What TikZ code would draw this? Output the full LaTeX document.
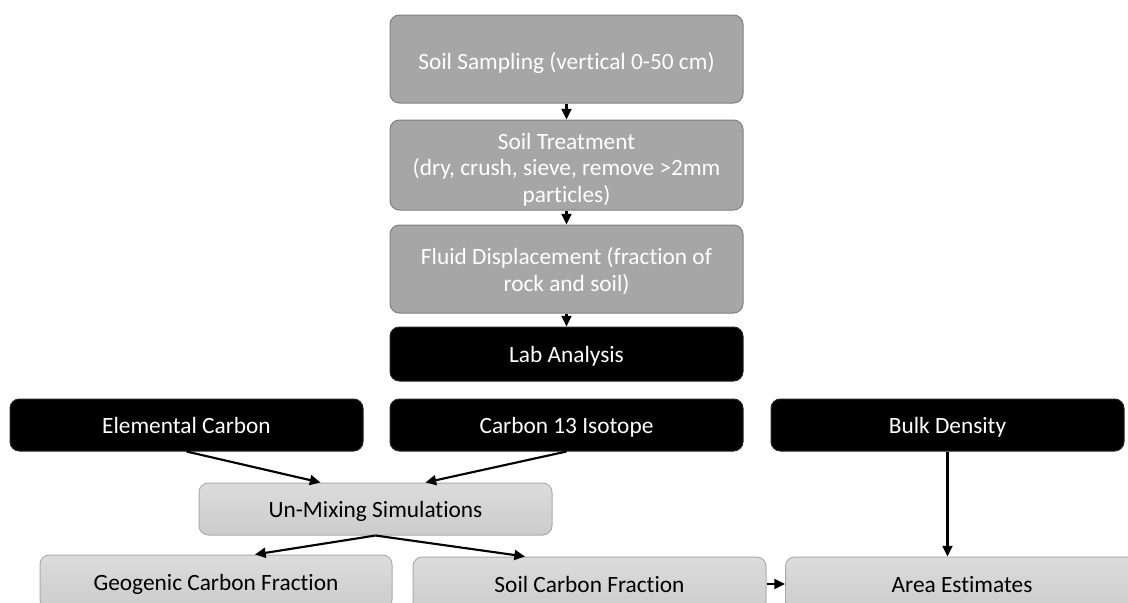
\documentclass[tikz,border=0pt]{standalone}
\usepackage{fontspec}
\setmainfont{Carlito}[Ligatures={NoCommon}]
\usetikzlibrary{arrows.meta,calc}

\definecolor{midgray}{HTML}{A6A6A6}
\definecolor{midedge}{HTML}{7F7F7F}
\definecolor{lighttop}{HTML}{DCDCDC}
\definecolor{lightbot}{HTML}{CCCCCC}
\definecolor{lightedge}{HTML}{ABABAB}

\begin{document}
\begin{tikzpicture}[x=0.75pt,y=-0.75pt,
    font=\fontsize{17.5}{20}\selectfont]

        \useasboundingbox (0,0) rectangle (1128,603);
        \clip (0,0) rectangle (1128,603);

        \begin{scope}[every node/.style={rectangle,rounded corners=7pt,draw=midedge,fill=midgray,
            text=white,line width=0.75pt,align=center,inner sep=0pt,minimum width=264.75pt}]
          \node[minimum height=66pt,text height=19pt,text depth=3.5pt] (samp) at (566.5,59) {Soil Sampling (vertical 0-50 cm)};
          \node[minimum height=67.5pt] (treat) at (566.5,165) {\rule{0pt}{19pt}Soil Treatment\\(dry, crush, sieve, remove >2mm\\particles)};
          \node[minimum height=66pt]   (fluid) at (566.5,269) {\rule{0pt}{16pt}Fluid Displacement (fraction of\\rock and soil)};
        \end{scope}

        \begin{scope}[every node/.style={rectangle,rounded corners=7pt,draw=black!85,fill=black,
            text=white,line width=0.75pt,inner sep=0pt,text height=15pt,text depth=3pt,
            minimum width=264.75pt,minimum height=39pt}]
          \node[minimum height=40.5pt] (lab) at (566.5,354) {Lab Analysis};
          \node (elem) at (186.5,425) {Elemental Carbon};
          \node (iso)  at (566.5,425) {Carbon 13 Isotope};
          \node (bulk) at (947.5,425) {Bulk Density};
        \end{scope}

        \begin{scope}[every node/.style={rectangle,rounded corners=7pt,draw=lightedge,
            top color=lighttop,bottom color=lightbot,text=black,line width=0.75pt,
            inner sep=0pt,text height=15pt,text depth=3pt,minimum width=264.75pt,minimum height=40.5pt}]
          \node[minimum height=39pt] (unmix) at (375.5,509) {Un-Mixing Simulations};
          \node[minimum width=264pt] (geo) at (216,582) {Geogenic Carbon Fraction};
          \node (soilc) at (589.5,584) {Soil Carbon Fraction};
          \node (area)  at (962,584) {Area Estimates};
        \end{scope}

        \begin{scope}[every edge/.style={draw,line width=1.6pt,-{Triangle[length=8pt,width=7.5pt]}}]
          \path (samp)  edge (treat);
          \path (treat) edge (fluid);
          \path (fluid) edge (lab);
          \path (elem.south) edge ($(unmix.north)+(-55,0)$);
          \path (iso.south)  edge ($(unmix.north)+(50,0)$);
          \path (unmix.south) edge ($(geo.north)+(39,0)$);
          \path (unmix.south) edge ($(soilc.north)+(-64.5,0)$);
          \path (bulk.south) edge (bulk.south |- area.north);
          \path (soilc) edge (area);
        \end{scope}

      \end{tikzpicture}
\end{document}
